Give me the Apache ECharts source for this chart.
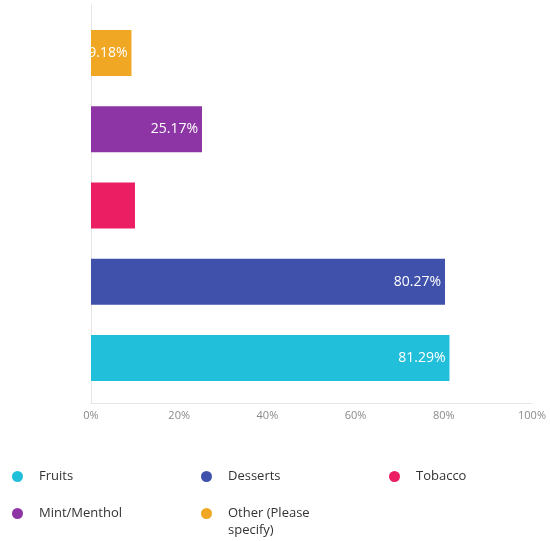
<!DOCTYPE html>
<html>
<head>
<meta charset="utf-8">
<script src="https://cdn.jsdelivr.net/npm/echarts@6/dist/echarts.min.js"></script>
<style>
  html, body { margin: 0; padding: 0; background: #fff; }
  #chart { width: 550px; height: 541px; }
</style>
</head>
<body>
<div id="chart"></div>
<script>
// Flavour preference shares (percent of respondents)
const categories = ['Fruits', 'Desserts', 'Tobacco', 'Mint/Menthol', 'Other (Please specify)'];
const values = [81.29, 80.27, 9.97, 25.17, 9.18];
const showLabel = [true, true, false, true, true];
const colors = ['#22bfdb', '#3f51ab', '#ec1e63', '#8d35a5', '#f0a824'];
const tickLabels = ['0%', '20%', '40%', '60%', '80%', '100%'];

// Legend grid: [left, top] per entry
const legendPos = [[7, 463], [196, 463], [384, 463], [7, 500], [196, 483]];

const series = categories.map((name, i) => ({
  name: name,
  type: 'bar',
  stack: 'all',
  xAxisIndex: 0,
  yAxisIndex: 0,
  barWidth: 46,
  itemStyle: { color: colors[i] },
  label: {
    show: showLabel[i],
    position: 'insideRight',
    distance: 4,
    color: '#ffffff',
    fontFamily: 'Open Sans',
    fontSize: 14,
    formatter: p => p.value.toFixed(2) + '%'
  },
  data: categories.map((c, j) => (j === i ? values[i] : '-'))
}));

const legends = categories.map((name, i) => ({
  data: [{ name: name, icon: 'circle' }],
  left: legendPos[i][0],
  top: legendPos[i][1],
  orient: 'horizontal',
  itemWidth: 11,
  itemHeight: 11,
  selectedMode: false,
  // leading blank line keeps the icon level with the first line of the wrapped name
  formatter: n => n === 'Other (Please specify)' ? '\nOther (Please\nspecify)' : n,
  textStyle: {
    fontFamily: 'Open Sans',
    fontSize: 13,
    color: '#333',
    lineHeight: 17,
    padding: [0, 0, 0, 11]
  }
}));

const chart = echarts.init(document.getElementById('chart'), null, { renderer: 'canvas' });
chart.setOption({
  animation: false,
  backgroundColor: '#ffffff',
  grid: [
    // bars
    { left: 91, right: 18, top: 15, height: 381 },
    // axis frame and tick labels
    { left: 91, right: 18, top: 5, height: 398 }
  ],
  legend: legends,
  xAxis: [
    {
      gridIndex: 0, type: 'value', min: 0, max: 100, interval: 20,
      axisLine: { show: false }, axisTick: { show: false },
      axisLabel: { show: false }, splitLine: { show: false }
    },
    {
      gridIndex: 1, type: 'value', min: 0, max: 100, interval: 20,
      splitLine: { show: false },
      axisLine: { show: true, lineStyle: { color: '#e6e6e6' } },
      axisTick: { show: false },
      axisLabel: {
        margin: 7,
        color: '#8a8a8a',
        fontFamily: 'Open Sans',
        fontSize: 11,
        formatter: v => tickLabels[Math.round(v / 20)]
      }
    }
  ],
  yAxis: [
    {
      gridIndex: 0, type: 'category', data: categories,
      axisLine: { show: false }, axisTick: { show: false },
      axisLabel: { show: false }, splitLine: { show: false }
    },
    {
      gridIndex: 1, type: 'category', data: categories,
      axisLine: { show: true, lineStyle: { color: '#e6e6e6' } },
      axisTick: { show: false },
      axisLabel: { show: false },
      splitLine: { show: false }
    }
  ],
  series: series
});
</script>
</body>
</html>
